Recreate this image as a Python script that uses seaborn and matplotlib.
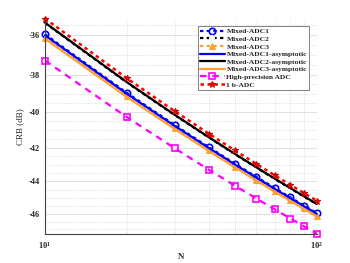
import numpy as np
import matplotlib
matplotlib.use("Agg")
import matplotlib.pyplot as plt
from matplotlib.ticker import FixedLocator, FixedFormatter, NullFormatter
import seaborn as sns

# number of samples
N = [10, 20, 30, 40, 50, 60, 70, 80, 90, 100]

# CRB values in dB
mixed1 = [-35.95, -38.96, -40.72, -41.97, -42.94, -43.73, -44.40, -44.98, -45.49, -45.95]
mixed2 = [-35.40, -38.41, -40.17, -41.42, -42.39, -43.18, -43.85, -44.43, -44.94, -45.40]
mixed3 = [-36.12, -39.13, -40.89, -42.14, -43.11, -43.90, -44.57, -45.15, -45.66, -46.12]
mixed1_asym = [-36.00, -39.01, -40.77, -42.02, -42.99, -43.78, -44.45, -45.03, -45.54, -46.00]
mixed2_asym = [-35.38, -38.39, -40.15, -41.40, -42.37, -43.16, -43.83, -44.41, -44.92, -45.38]
mixed3_asym = [-36.17, -39.18, -40.94, -42.19, -43.16, -43.95, -44.62, -45.20, -45.71, -46.17]
high_prec = [-37.27, -40.28, -42.04, -43.29, -44.26, -45.05, -45.72, -46.30, -46.81, -47.27]
one_bit = [-35.18, -38.19, -39.95, -41.20, -42.17, -42.96, -43.63, -44.21, -44.72, -45.18]

yticks = [-46, -44, -42, -40, -38, -36]
ytick_labels = ["-46", "-44", "-42", "-40", "-38", "-36"]
xticks = [10, 100]
xtick_labels = ["$\\mathbf{10^1}$", "$\\mathbf{10^2}$"]

sns.set_theme(style="white")
plt.rcParams["font.family"] = ["Liberation Serif", "DejaVu Serif"]
plt.rcParams["axes.unicode_minus"] = False
plt.rcParams["mathtext.fontset"] = "custom"
plt.rcParams["mathtext.rm"] = "Liberation Serif"
plt.rcParams["mathtext.bf"] = "Liberation Serif:bold"

BLUE = "#0000ff"
ORANGE = "#ffa030"
MAG = "#ff00ff"
RED = "#ff0000"

fig = plt.figure(figsize=(3.5, 2.63), dpi=100)
ax = fig.add_axes([0.1286, 0.110, 0.7764, 0.814])

sns.lineplot(x=N, y=mixed1, ax=ax, color=BLUE, lw=1.6, linestyle=(0, (1.5, 1.5)),
             marker="o", ms=4.6, mfc="none", mec=BLUE, mew=1.2, label="Mixed-ADC1")
sns.lineplot(x=N, y=mixed2, ax=ax, color="black", lw=1.6, linestyle=(0, (1.5, 1.5)),
             marker="+", ms=4.5, mew=1.4, label="Mixed-ADC2")
sns.lineplot(x=N, y=mixed3, ax=ax, color=ORANGE, lw=1.6, linestyle=(0, (1.5, 1.5)),
             marker="^", ms=4.2, mfc=ORANGE, mec=ORANGE, label="Mixed-ADC3")
sns.lineplot(x=N, y=mixed1_asym, ax=ax, color=BLUE, lw=1.6, label="Mixed-ADC1-asymptotic")
sns.lineplot(x=N, y=mixed2_asym, ax=ax, color="black", lw=1.6, label="Mixed-ADC2-asymptotic")
sns.lineplot(x=N, y=mixed3_asym, ax=ax, color=ORANGE, lw=1.6, label="Mixed-ADC3-asymptotic")
sns.lineplot(x=N, y=high_prec, ax=ax, color=MAG, lw=1.6, linestyle=(0, (3, 2.5)),
             marker="s", ms=4, mfc="none", mec=MAG, mew=1.2, label="High-precision ADC")
sns.lineplot(x=N, y=one_bit, ax=ax, color=RED, lw=1.8, linestyle=(0, (1.4, 1.4)),
             marker="*", ms=4.5, mfc=RED, mec="#d00000", mew=0.8, label="1 b-ADC")

for ln in ax.lines:
    ln.set_clip_on(False)

ax.set_xscale("log")
ax.set_yscale("function",
              functions=(lambda y: -np.log10(np.clip(-np.asarray(y, dtype=float), 1e-3, None)),
                         lambda u: -10 ** (-np.asarray(u, dtype=float))))
ax.set_xlim(10, 100)
ax.set_ylim(-47.3, -35.25)

ax.xaxis.set_major_locator(FixedLocator(xticks))
ax.xaxis.set_major_formatter(FixedFormatter(xtick_labels))
ax.xaxis.set_minor_locator(FixedLocator([20, 30, 40, 50, 60, 70, 80, 90]))
ax.xaxis.set_minor_formatter(NullFormatter())
ax.yaxis.set_major_locator(FixedLocator(yticks))
ax.yaxis.set_major_formatter(FixedFormatter(ytick_labels))
ax.yaxis.set_minor_locator(FixedLocator([v / 2 for v in range(-94, -70)]))
ax.yaxis.set_minor_formatter(NullFormatter())

ax.grid(which="major", color="#dcdcdc", lw=0.6, ls="-")
ax.grid(which="minor", color="#c8c8c8", lw=0.5, ls=":")
ax.set_axisbelow(True)

for side in ["top", "right"]:
    ax.spines[side].set_visible(False)
for side in ["left", "bottom"]:
    ax.spines[side].set_color("#404040")
    ax.spines[side].set_linewidth(0.8)

ax.tick_params(which="both", direction="in", color="#404040", width=0.6,
               labelsize=6, pad=4)
ax.tick_params(which="major", length=2.5)
ax.tick_params(which="minor", length=1.5)
for t in ax.get_yticklabels():
    t.set_fontweight("bold")

ax.set_xlabel("N", fontsize=6.5, fontweight="bold", labelpad=2)
ax.set_ylabel("CRB (dB)", fontsize=6.5, labelpad=3)

leg = ax.legend(loc="upper right", bbox_to_anchor=(0.972, 0.972), borderaxespad=0,
                handlelength=3.3, handletextpad=0.25, labelspacing=0.18,
                borderpad=0.3, frameon=True, fancybox=False, framealpha=1,
                prop={"weight": "bold", "size": 5.4})
leg.get_frame().set_edgecolor("#808080")
leg.get_frame().set_linewidth(0.7)

fig.savefig("out.png", dpi=100)
